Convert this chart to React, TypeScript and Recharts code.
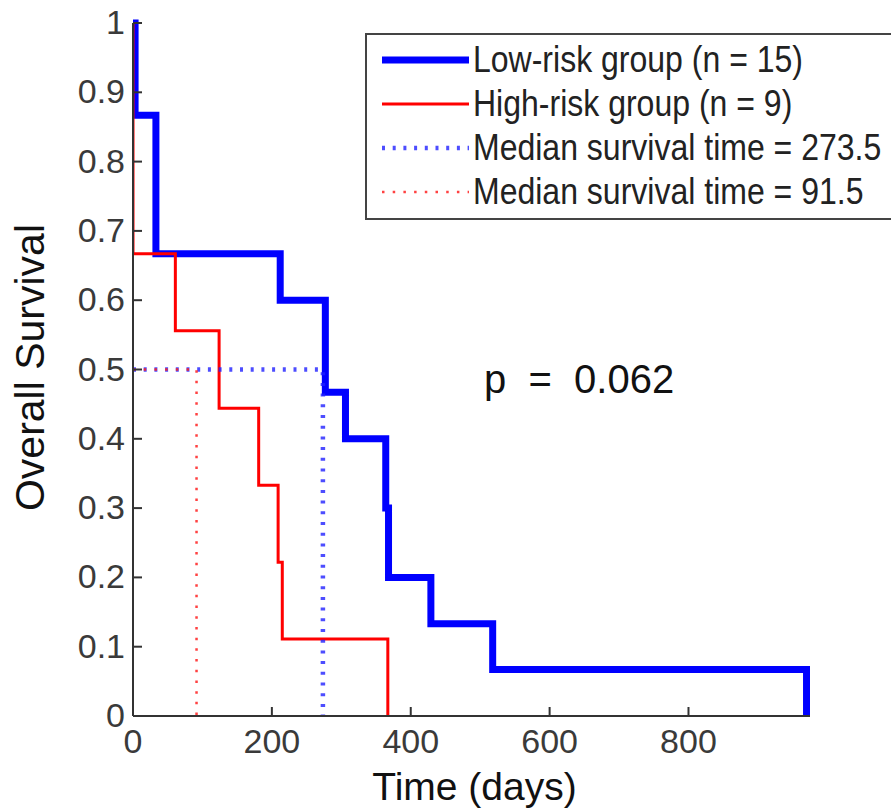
import React from 'react';
import { ComposedChart, Line, XAxis, YAxis, Legend } from 'recharts';

// ---- data ----
const lowRiskTimes = [0, 3, 33, 212, 277, 306, 364, 368, 429, 518, 970];
const lowRiskSurvival = [1, 0.867, 0.667, 0.6, 0.467, 0.4, 0.3, 0.2, 0.133, 0.067, 0];
const highRiskTimes = [0, 0, 61, 124, 181, 209, 215, 367];
const highRiskSurvival = [1, 0.667, 0.556, 0.444, 0.333, 0.222, 0.111, 0];
const lowRiskMedian = 273.5;
const highRiskMedian = 91.5;
const medianLevel = 0.5;
const xTicks = [0, 200, 400, 600, 800];
const yTicks = [0, 0.1, 0.2, 0.3, 0.4, 0.5, 0.6, 0.7, 0.8, 0.9, 1];
const xDomain = [0, 975];
const legendLabels = [
  'Low-risk group (n = 15)',
  'High-risk group (n = 9)',
  'Median survival time = 273.5',
  'Median survival time = 91.5',
];
const pValueText = 'p  =  0.062';
const xLabel = 'Time (days)';
const yLabel = 'Overall Survival';

// ---- built tables ----
const lowRiskData = lowRiskTimes.map((t, i) => ({ t, s: lowRiskSurvival[i] }));
const highRiskData = highRiskTimes.map((t, i) => ({ t, s: highRiskSurvival[i] }));
const lowMedianData = [
  { t: 0, s: medianLevel },
  { t: lowRiskMedian, s: medianLevel },
  { t: lowRiskMedian, s: 0 },
];
const highMedianData = [
  { t: 0, s: medianLevel },
  { t: highRiskMedian, s: medianLevel },
  { t: highRiskMedian, s: 0 },
];

const FONT = '"Liberation Sans", Arial, sans-serif';
const AXIS = '#333333';
const TICKTXT = '#3a3a3a';

const seriesStyles = [
  { stroke: '#0000ff', width: 7, dash: undefined as string | undefined, opacity: 1 },
  { stroke: '#ff0000', width: 3, dash: undefined as string | undefined, opacity: 1 },
  { stroke: '#2020ff', width: 4.5, dash: '3 7.7', opacity: 0.8 },
  { stroke: '#ff2020', width: 2.5, dash: '2.5 8.2', opacity: 0.85 },
];

const fmtY = (v: number) => (v === 0 ? '0' : v === 1 ? '1' : v.toFixed(1));

const XTick = (props: any) => {
  const { x, y, payload } = props;
  return (
    <g>
      <line x1={x} x2={x} y1={y} y2={y - 9} stroke={AXIS} strokeWidth={2} />
      <text x={x} y={y + 37} textAnchor="middle" fill={TICKTXT} fontSize={34} fontFamily={FONT}>
        {String(payload.value)}
      </text>
    </g>
  );
};

const YTick = (props: any) => {
  const { x, y, payload } = props;
  return (
    <g>
      <line x1={x} x2={x + 9} y1={y} y2={y} stroke={AXIS} strokeWidth={2} />
      <text x={x - 8} y={y + 11} textAnchor="end" fill={TICKTXT} fontSize={34} fontFamily={FONT}>
        {fmtY(payload.value)}
      </text>
    </g>
  );
};

const XLabel = (props: any) => {
  const vb = props.viewBox;
  return (
    <text x={vb.x + vb.width / 2 + 3} y={vb.y + 84} textAnchor="middle" fill="#111" fontSize={39} fontFamily={FONT}>
      {xLabel}
    </text>
  );
};

const YLabel = (props: any) => {
  const vb = props.viewBox;
  const cx = 30;
  const cy = vb.y + vb.height / 2 - 2;
  return (
    <text
      x={cx}
      y={cy}
      transform={`rotate(-90, ${cx}, ${cy})`}
      textAnchor="middle"
      dominantBaseline="central"
      fill="#111"
      fontSize={41}
      fontFamily={FONT}
    >
      {yLabel}
    </text>
  );
};

const renderLegend = () => (
  <div
    style={{
      boxSizing: 'border-box',
      width: 560,
      height: 187,
      border: '2px solid #444',
      background: '#fff',
      paddingTop: 3,
      paddingLeft: 15,
      fontFamily: FONT,
      fontSize: 37,
      color: '#222',
      overflow: 'hidden',
    }}
  >
    {legendLabels.map((label, i) => {
      const st = seriesStyles[i];
      return (
        <div key={label} style={{ height: 44, display: 'flex', alignItems: 'center', whiteSpace: 'nowrap' }}>
          <svg width={87} height={12} style={{ marginRight: 4, flex: 'none' }}>
            <line
              x1={0}
              x2={87}
              y1={6}
              y2={6}
              stroke={st.stroke}
              strokeWidth={st.width}
              strokeDasharray={st.dash}
              strokeOpacity={st.opacity}
            />
          </svg>
          <span
            style={{
              display: 'inline-block',
              transform: 'scaleX(0.865)',
              transformOrigin: 'left center',
              width: 400,
            }}
          >
            {label}
          </span>
        </div>
      );
    })}
  </div>
);

export default function App() {
  return (
    <div style={{ position: 'absolute', left: 0, top: 0, width: 891, height: 809, overflow: 'hidden', background: '#fff' }}>
      <ComposedChart width={891} height={809} margin={{ top: 23, right: 81, bottom: 0, left: 0 }}>
        <XAxis
          type="number"
          dataKey="t"
          domain={xDomain}
          ticks={xTicks}
          allowDataOverflow
          height={93}
          tickSize={0}
          tickMargin={0}
          tickLine={false}
          tick={<XTick />}
          axisLine={{ stroke: AXIS, strokeWidth: 2 }}
          label={<XLabel />}
        />
        <YAxis
          type="number"
          dataKey="s"
          domain={[0, 1]}
          ticks={yTicks}
          width={133}
          tickSize={0}
          tickMargin={0}
          tickLine={false}
          tick={<YTick />}
          axisLine={{ stroke: AXIS, strokeWidth: 2 }}
          label={<YLabel />}
        />
        <Line
          data={lowRiskData}
          dataKey="s"
          type="stepAfter"
          stroke={seriesStyles[0].stroke}
          strokeWidth={seriesStyles[0].width}
          dot={false}
          activeDot={false}
          isAnimationActive={false}
          name={legendLabels[0]}
        />
        <Line
          data={highRiskData}
          dataKey="s"
          type="stepAfter"
          stroke={seriesStyles[1].stroke}
          strokeWidth={seriesStyles[1].width}
          dot={false}
          activeDot={false}
          isAnimationActive={false}
          name={legendLabels[1]}
        />
        <Line
          data={lowMedianData}
          dataKey="s"
          type="linear"
          stroke={seriesStyles[2].stroke}
          strokeWidth={seriesStyles[2].width}
          strokeDasharray={seriesStyles[2].dash}
          strokeOpacity={seriesStyles[2].opacity}
          dot={false}
          activeDot={false}
          isAnimationActive={false}
          name={legendLabels[2]}
        />
        <Line
          data={highMedianData}
          dataKey="s"
          type="linear"
          stroke={seriesStyles[3].stroke}
          strokeWidth={seriesStyles[3].width}
          strokeDasharray={seriesStyles[3].dash}
          strokeOpacity={seriesStyles[3].opacity}
          dot={false}
          activeDot={false}
          isAnimationActive={false}
          name={legendLabels[3]}
        />
        <Legend
          layout="horizontal"
          verticalAlign="middle"
          align="center"
          content={renderLegend}
          wrapperStyle={{ position: 'absolute', left: 365, top: 33, width: 560, height: 187 }}
        />
      </ComposedChart>
      <div
        style={{
          position: 'absolute',
          left: 484,
          top: 354,
          fontFamily: FONT,
          fontSize: 40,
          color: '#111',
          whiteSpace: 'pre',
          lineHeight: '50px',
        }}
      >
        {pValueText}
      </div>
    </div>
  );
}
